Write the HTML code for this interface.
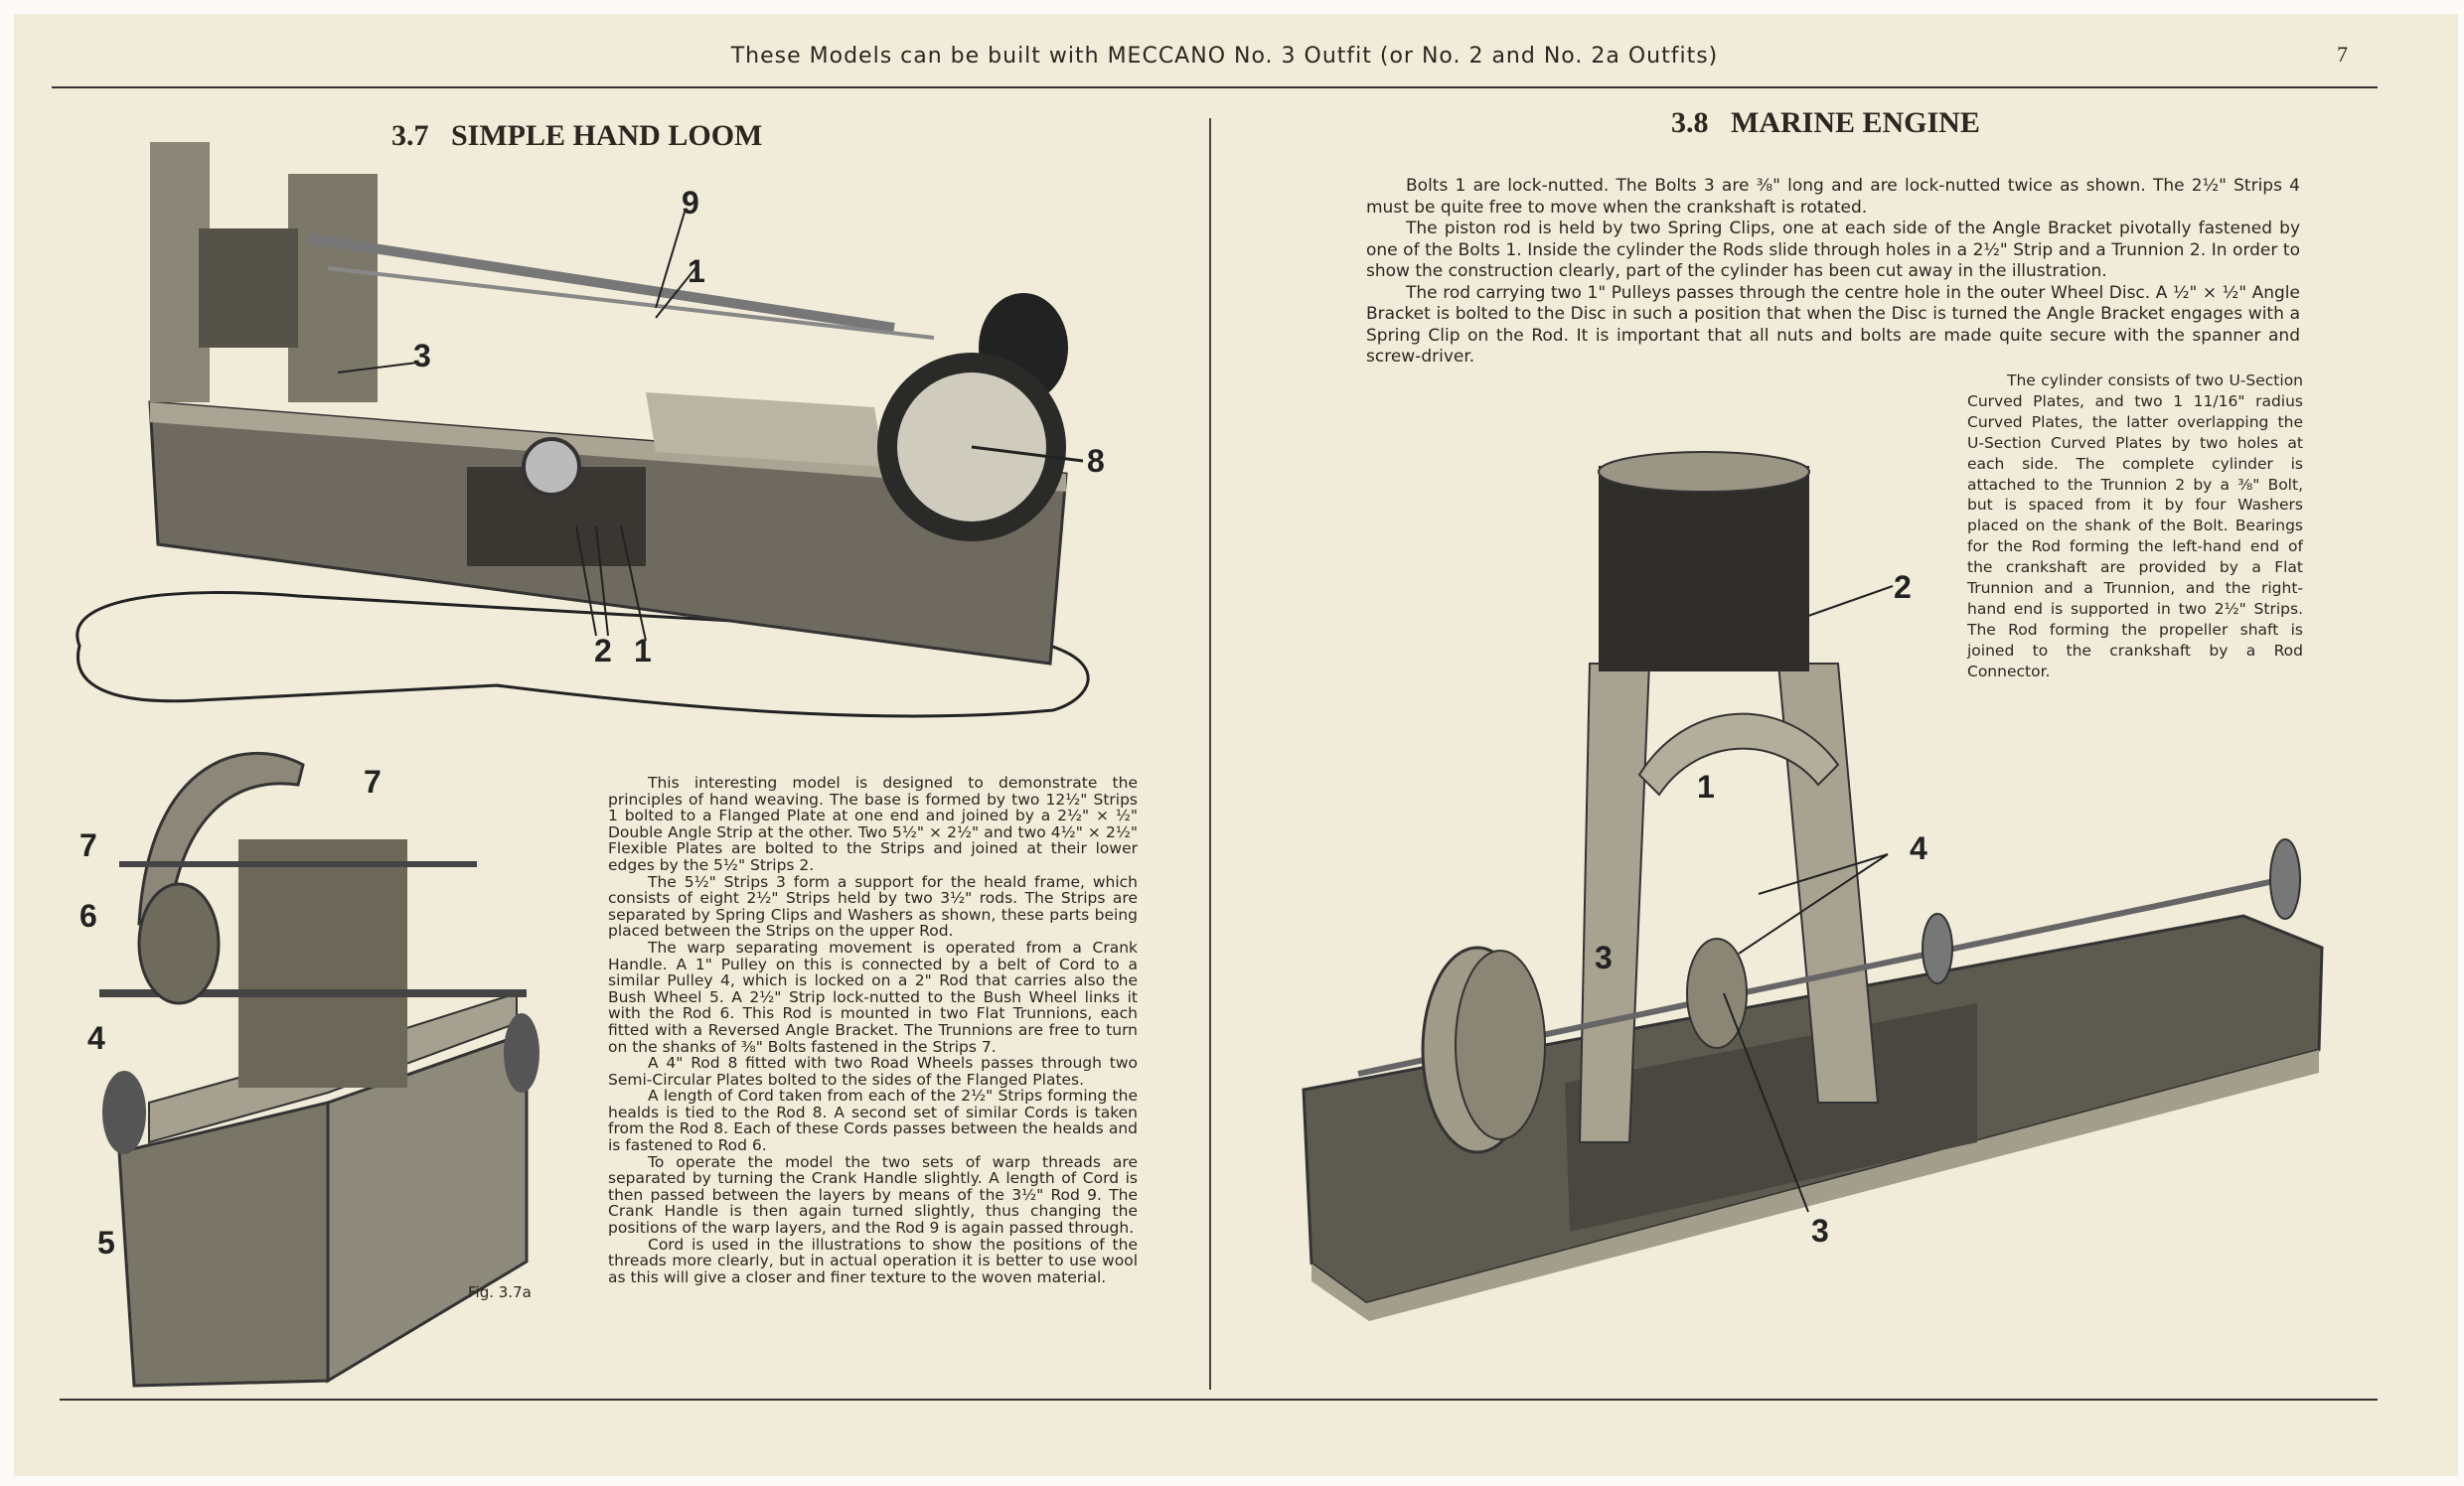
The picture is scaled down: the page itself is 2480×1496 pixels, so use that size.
<!DOCTYPE html>
<html><head><meta charset="utf-8"><style>
html,body{margin:0;padding:0}
body{width:2480px;height:1496px;position:relative;background:#fbfaf6;overflow:hidden;font-family:"DejaVu Sans","Liberation Sans",sans-serif;color:#2a2620}
.page{position:absolute;left:14px;top:14px;width:2460px;height:1472px;background:#f1ecd9}
.abs{position:absolute}
.p{text-align:justify;margin:0;text-indent:0}
.i{text-indent:40px}
.lbl{position:absolute;font-family:"Liberation Sans",sans-serif;font-weight:bold;font-size:32px;color:#222}
</style></head><body>
<div class="page"></div>
<svg class="abs" style="left:0;top:0" width="2480" height="1496">
<line x1="52" y1="88" x2="2393" y2="88" stroke="#333" stroke-width="2"/>
<line x1="60" y1="1409" x2="2393" y2="1409" stroke="#333" stroke-width="2"/>
<line x1="1218" y1="119" x2="1218" y2="1399" stroke="#444" stroke-width="2"/>
<!-- loom top -->
<path d="M80 650 C60 600 180 590 300 600 L1000 640 C1120 650 1110 700 1060 715 C900 730 700 715 500 690 L200 705 C110 710 70 690 80 650Z" fill="none" stroke="#222" stroke-width="3"/>
<polygon points="151,405 1073,477 1057,668 159,548" fill="#6e6a5f" stroke="#333" stroke-width="3"/>
<polygon points="151,405 1073,477 1073,495 151,425" fill="#a9a493"/>
<polygon points="650,395 880,410 890,470 660,455" fill="#b9b4a3"/>
<rect x="470" y="470" width="180" height="100" fill="#3a3733"/>
<rect x="151" y="143" width="60" height="262" fill="#8b8677"/>
<rect x="290" y="175" width="90" height="230" fill="#7c7869"/>
<rect x="200" y="230" width="100" height="120" fill="#55524a"/>
<path d="M310 240 L900 330" stroke="#777" stroke-width="10"/>
<path d="M330 270 L940 340" stroke="#888" stroke-width="4"/>
<ellipse cx="1030" cy="350" rx="45" ry="55" fill="#222"/>
<ellipse cx="978" cy="450" rx="95" ry="95" fill="#2a2a28"/>
<ellipse cx="978" cy="450" rx="75" ry="75" fill="#cfcbbd"/>
<circle cx="555" cy="470" r="28" fill="#bbb" stroke="#333" stroke-width="4"/>
<line x1="978" y1="450" x2="1090" y2="464" stroke="#222" stroke-width="3"/>
<line x1="700" y1="270" x2="660" y2="320" stroke="#222" stroke-width="2"/>
<line x1="690" y1="210" x2="660" y2="310" stroke="#222" stroke-width="2"/>
<line x1="600" y1="640" x2="580" y2="530" stroke="#222" stroke-width="2"/>
<line x1="612" y1="640" x2="600" y2="530" stroke="#222" stroke-width="2"/>
<line x1="650" y1="645" x2="625" y2="530" stroke="#222" stroke-width="2"/>
<line x1="420" y1="365" x2="340" y2="375" stroke="#222" stroke-width="2"/>
<!-- loom bottom -->
<path d="M140 930 C150 760 250 740 305 770 L300 790 C230 780 180 830 170 930Z" fill="#8c8778" stroke="#333" stroke-width="3"/>
<polygon points="120,1160 330,1110 330,1390 135,1395" fill="#7a7667" stroke="#333" stroke-width="3"/>
<polygon points="330,1110 530,1040 530,1270 330,1390" fill="#8e8a7b" stroke="#333" stroke-width="3"/>
<polygon points="150,1150 330,1100 520,1030 520,1000 330,1060 150,1110" fill="#a5a090" stroke="#333" stroke-width="2"/>
<rect x="240" y="845" width="170" height="250" fill="#6c6859"/>
<line x1="100" y1="1000" x2="530" y2="1000" stroke="#444" stroke-width="8"/>
<line x1="120" y1="870" x2="480" y2="870" stroke="#444" stroke-width="6"/>
<ellipse cx="180" cy="950" rx="40" ry="60" fill="#6e6a5c" stroke="#333" stroke-width="3"/>
<ellipse cx="125" cy="1120" rx="22" ry="42" fill="#555"/>
<ellipse cx="525" cy="1060" rx="18" ry="40" fill="#555"/>
<!-- marine engine -->
<polygon points="1312,1097 2258,922 2337,954 2334,1057 1375,1312 1320,1272" fill="#5d5a50" stroke="#333" stroke-width="3"/>
<polygon points="1320,1272 1375,1312 2334,1057 2334,1080 1378,1330 1320,1290" fill="#a39e8c"/>
<polygon points="1575,1090 1990,1010 1990,1150 1580,1240" fill="#4a4740"/>
<polygon points="1600,668 1660,668 1640,1150 1590,1150" fill="#a8a391" stroke="#333" stroke-width="2"/>
<polygon points="1790,668 1850,668 1890,1110 1830,1110" fill="#a8a391" stroke="#333" stroke-width="2"/>
<path d="M1650 780 C1700 700 1800 700 1850 770 L1830 790 C1790 740 1710 740 1670 800Z" fill="#b3ae9c" stroke="#333" stroke-width="2"/>
<rect x="1609" y="469" width="212" height="207" fill="#2f2d2a"/>
<ellipse cx="1715" cy="475" rx="106" ry="20" fill="#9a9584" stroke="#333" stroke-width="2"/>
<line x1="1367" y1="1081" x2="2313" y2="882" stroke="#666" stroke-width="6"/>
<ellipse cx="1487" cy="1057" rx="55" ry="103" fill="#a09b89" stroke="#333" stroke-width="3"/>
<ellipse cx="1510" cy="1052" rx="45" ry="95" fill="#8a8574" stroke="#333" stroke-width="2"/>
<ellipse cx="1728" cy="1000" rx="30" ry="55" fill="#8a8574" stroke="#333" stroke-width="2"/>
<ellipse cx="1950" cy="955" rx="15" ry="35" fill="#777" stroke="#333" stroke-width="2"/>
<ellipse cx="2300" cy="885" rx="15" ry="40" fill="#777" stroke="#333" stroke-width="2"/>
<line x1="1820" y1="620" x2="1905" y2="590" stroke="#222" stroke-width="2"/>
<line x1="1900" y1="860" x2="1750" y2="960" stroke="#222" stroke-width="2"/>
<line x1="1900" y1="860" x2="1770" y2="900" stroke="#222" stroke-width="2"/>
<line x1="1735" y1="1000" x2="1820" y2="1220" stroke="#222" stroke-width="2"/>
</svg>
<div class="abs" style="left:0;width:2465px;top:44px;text-align:center;font-size:22px;letter-spacing:1px">These Models can be built with MECCANO No. 3 Outfit (or No. 2 and No. 2a Outfits)</div>
<div class="abs" style="left:2352px;top:42px;font-size:22px;font-family:'Liberation Serif',serif">7</div>
<div class="abs" style="left:394px;top:120px;font-size:30px;font-family:'Liberation Serif',serif;font-weight:bold">3.7&nbsp;&nbsp; SIMPLE HAND LOOM</div>
<div class="abs" style="left:1682px;top:107px;font-size:30px;font-family:'Liberation Serif',serif;font-weight:bold">3.8&nbsp;&nbsp; MARINE ENGINE</div>
<div class="abs" style="left:471px;top:1292px;font-size:15px">Fig. 3.7a</div>
<div class="lbl" style="left:686px;top:186px">9</div><div class="lbl" style="left:692px;top:255px">1</div>
<div class="lbl" style="left:416px;top:340px">3</div><div class="lbl" style="left:1094px;top:446px">8</div>
<div class="lbl" style="left:598px;top:637px">2</div><div class="lbl" style="left:638px;top:637px">1</div>
<div class="lbl" style="left:80px;top:833px">7</div><div class="lbl" style="left:366px;top:769px">7</div>
<div class="lbl" style="left:80px;top:904px">6</div><div class="lbl" style="left:88px;top:1027px">4</div>
<div class="lbl" style="left:98px;top:1233px">5</div>
<div class="lbl" style="left:1906px;top:573px">2</div><div class="lbl" style="left:1708px;top:774px">1</div>
<div class="lbl" style="left:1922px;top:836px">4</div><div class="lbl" style="left:1605px;top:946px">3</div>
<div class="lbl" style="left:1823px;top:1221px">3</div>
<div class="abs" style="left:612px;top:780px;width:533px;font-size:15.5px;line-height:16.6px">
<p class="p i">This interesting model is designed to demonstrate the principles of hand weaving. The base is formed by two 12½" Strips 1 bolted to a Flanged Plate at one end and joined by a 2½" × ½" Double Angle Strip at the other. Two 5½" × 2½" and two 4½" × 2½" Flexible Plates are bolted to the Strips and joined at their lower edges by the 5½" Strips 2.</p>
<p class="p i">The 5½" Strips 3 form a support for the heald frame, which consists of eight 2½" Strips held by two 3½" rods. The Strips are separated by Spring Clips and Washers as shown, these parts being placed between the Strips on the upper Rod.</p>
<p class="p i">The warp separating movement is operated from a Crank Handle. A 1" Pulley on this is connected by a belt of Cord to a similar Pulley 4, which is locked on a 2" Rod that carries also the Bush Wheel 5. A 2½" Strip lock-nutted to the Bush Wheel links it with the Rod 6. This Rod is mounted in two Flat Trunnions, each fitted with a Reversed Angle Bracket. The Trunnions are free to turn on the shanks of ⅜" Bolts fastened in the Strips 7.</p>
<p class="p i">A 4" Rod 8 fitted with two Road Wheels passes through two Semi-Circular Plates bolted to the sides of the Flanged Plates.</p>
<p class="p i">A length of Cord taken from each of the 2½" Strips forming the healds is tied to the Rod 8. A second set of similar Cords is taken from the Rod 8. Each of these Cords passes between the healds and is fastened to Rod 6.</p>
<p class="p i">To operate the model the two sets of warp threads are separated by turning the Crank Handle slightly. A length of Cord is then passed between the layers by means of the 3½" Rod 9. The Crank Handle is then again turned slightly, thus changing the positions of the warp layers, and the Rod 9 is again passed through.</p>
<p class="p i">Cord is used in the illustrations to show the positions of the threads more clearly, but in actual operation it is better to use wool as this will give a closer and finer texture to the woven material.</p>
</div>
<div class="abs" style="left:1375px;top:177px;width:940px;font-size:17px;line-height:21.5px">
<p class="p i">Bolts 1 are lock-nutted. The Bolts 3 are ⅜" long and are lock-nutted twice as shown. The 2½" Strips 4 must be quite free to move when the crankshaft is rotated.</p>
<p class="p i">The piston rod is held by two Spring Clips, one at each side of the Angle Bracket pivotally fastened by one of the Bolts 1. Inside the cylinder the Rods slide through holes in a 2½" Strip and a Trunnion 2. In order to show the construction clearly, part of the cylinder has been cut away in the illustration.</p>
<p class="p i">The rod carrying two 1" Pulleys passes through the centre hole in the outer Wheel Disc. A ½" × ½" Angle Bracket is bolted to the Disc in such a position that when the Disc is turned the Angle Bracket engages with a Spring Clip on the Rod. It is important that all nuts and bolts are made quite secure with the spanner and screw-driver.</p>
</div>
<div class="abs" style="left:1980px;top:373px;width:338px;font-size:15.5px;line-height:20.9px">
<p class="p i">The cylinder consists of two U-Section Curved Plates, and two 1 11/16" radius Curved Plates, the latter overlapping the U-Section Curved Plates by two holes at each side. The complete cylinder is attached to the Trunnion 2 by a ⅜" Bolt, but is spaced from it by four Washers placed on the shank of the Bolt. Bearings for the Rod forming the left-hand end of the crankshaft are provided by a Flat Trunnion and a Trunnion, and the right-hand end is supported in two 2½" Strips. The Rod forming the propeller shaft is joined to the crankshaft by a Rod Connector.</p>
</div>
</body></html>
